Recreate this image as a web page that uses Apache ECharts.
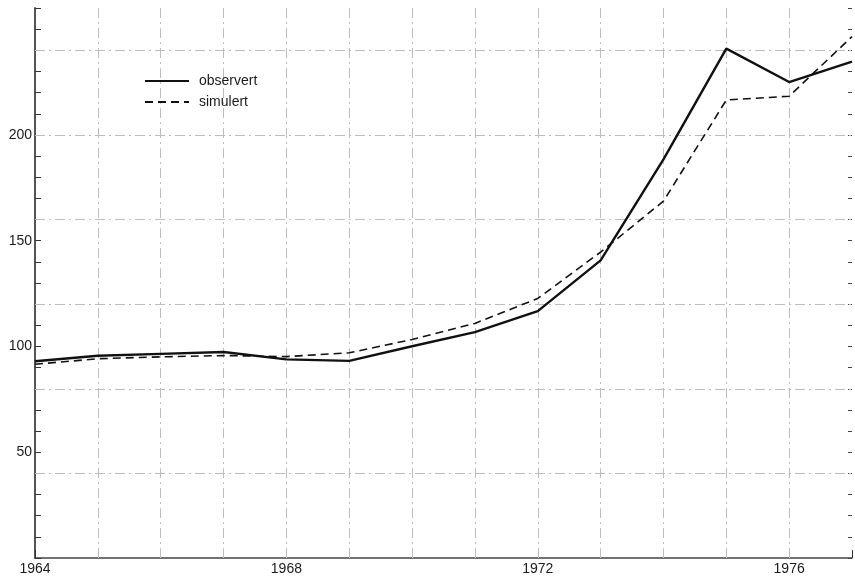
<!DOCTYPE html>
<html>
<head>
<meta charset="utf-8">
<script src="https://cdn.jsdelivr.net/npm/echarts@6/dist/echarts.min.js"></script>
<style>
  html, body { margin: 0; padding: 0; background: #fff; }
  #chart { width: 855px; height: 579px; }
</style>
</head>
<body>
<div id="chart"></div>
<script>
const years = [1964, 1965, 1966, 1967, 1968, 1969, 1970, 1971, 1972, 1973, 1974, 1975, 1976, 1977];
const observert = [93.0, 95.6, 96.5, 97.4, 93.9, 93.2, 100.1, 106.8, 116.7, 140.7, 188.4, 240.8, 225.0, 234.6];
const simulert = [91.6, 94.2, 95.1, 95.7, 95.2, 97.0, 103.3, 110.9, 122.7, 144.6, 168.7, 216.5, 218.3, 246.5];
const yLabels = [50, 100, 150, 200];
const xLabels = [1964, 1968, 1972, 1976];
// faint grid paper lines
const gridYears = [1965, 1966, 1967, 1968, 1969, 1970, 1971, 1972, 1973, 1974, 1975, 1976];
const gridValues = [40, 80, 120, 160, 200, 240];

const textColor = '#1a1a1a';
const gridColor = '#bdbdbd';
const font = 'Liberation Sans';

let chart;

const pairs = (vals) => years.map((y, i) => [y, vals[i]]);

const gridLines = () => [
  ...gridYears.map(y => ({ xAxis: y })),
  ...gridValues.map(v => ({ yAxis: v }))
];

const getOption = () => {
  return {
    animation: false,
    backgroundColor: '#fff',
    grid: { left: 35, right: 1, top: 8, bottom: 21 },
    legend: {
      orient: 'vertical',
      left: 144,
      top: 74,
      padding: 0,
      itemWidth: 44,
      itemHeight: 14,
      itemGap: 7,
      itemStyle: { opacity: 0 },
      textStyle: { color: textColor, fontSize: 14, fontFamily: font, padding: [0, 0, 0, 5] },
      data: ['observert', 'simulert']
    },
    xAxis: {
      type: 'value',
      min: 1964,
      max: 1977,
      interval: 1,
      axisLine: { show: true, lineStyle: { color: '#444', width: 1.5 } },
      axisTick: { show: true, inside: true, length: 8, lineStyle: { color: '#333' } },
      axisLabel: {
        color: textColor,
        fontSize: 14,
        fontFamily: font,
        margin: 4,
        formatter: (v) => xLabels.includes(v) ? String(v) : ''
      },
      splitLine: { show: false }
    },
    yAxis: [{
      type: 'value',
      min: 0,
      max: 260,
      interval: 10,
      position: 'left',
      axisLine: { show: true, lineStyle: { color: '#555', width: 2 } },
      axisTick: { show: true, inside: true, length: 6, lineStyle: { color: '#333' } },
      axisLabel: {
        color: textColor,
        fontSize: 14,
        fontFamily: font,
        margin: 3,
        formatter: (v) => yLabels.includes(v) ? String(v) : ''
      },
      splitLine: { show: false }
    }, {
      // right edge ticks
      type: 'value',
      min: 0,
      max: 260,
      interval: 10,
      position: 'right',
      axisLine: { show: false },
      axisTick: { show: true, inside: true, length: 4, lineStyle: { color: '#444' } },
      axisLabel: { show: false },
      splitLine: { show: false }
    }],
    series: [{
      name: 'observert',
      type: 'line',
      symbol: 'none',
      data: pairs(observert),
      lineStyle: { color: '#111', width: 2.4, type: 'solid' },
      itemStyle: { color: '#111' },
      z: 3,
      markLine: {
        silent: true,
        symbol: 'none',
        label: { show: false },
        lineStyle: { color: gridColor, type: [10, 4, 2, 4], width: 1 },
        data: gridLines(),
        z: 1
      }
    }, {
      name: 'simulert',
      type: 'line',
      symbol: 'none',
      data: pairs(simulert),
      lineStyle: { color: '#111', width: 1.6, type: [8, 5] },
      itemStyle: { color: '#111' },
      z: 3
    }]
  };
};

window.addEventListener('load', () => {
  chart = echarts.init(document.getElementById('chart'));
  chart.setOption(getOption());
});
</script>
</body>
</html>
